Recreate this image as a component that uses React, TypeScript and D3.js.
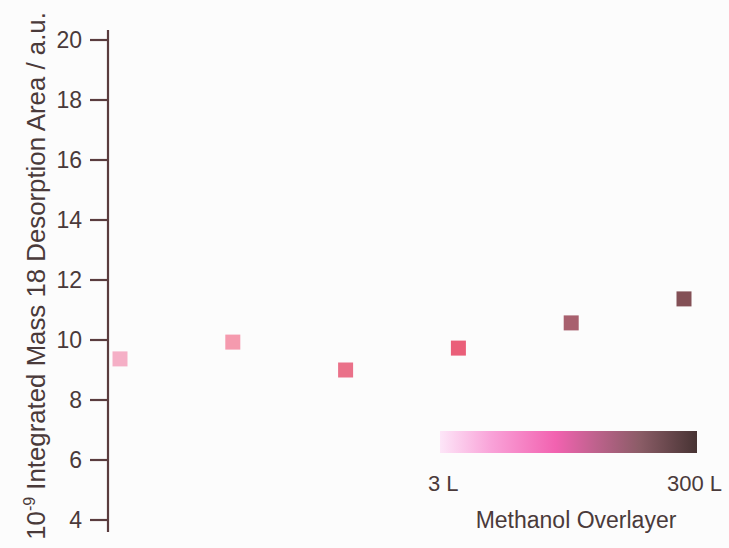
import React from "react";
import * as d3 from "d3";

const exposures = ["e1", "e2", "e3", "e4", "e5", "e6"];
const areas = [9.37, 9.93, 9.0, 9.73, 10.57, 11.37];
const pointColors = ["#f5afc6", "#f59aae", "#ea7189", "#ea5f79", "#a8606e", "#835056"];
const yTicks = [4, 6, 8, 10, 12, 14, 16, 18, 20];
const gradientStops = [
  { offset: 0, color: "#fde6f8" },
  { offset: 0.2, color: "#f9a2d8" },
  { offset: 0.45, color: "#f262b0" },
  { offset: 0.6, color: "#c0628e" },
  { offset: 0.78, color: "#8a5c66" },
  { offset: 1, color: "#473333" },
];
const legendLabels = ["3 L", "300 L"];
const legendTitle = "Methanol Overlayer";
const yLabelMain = " Integrated Mass 18 Desorption Area / a.u.";

const W = 729;
const H = 548;
const FONT = "'Liberation Sans', Arial, Helvetica, sans-serif";
const TEXT = "#4a3a3a";
const AXIS = "#5a3c3e";

export default function App() {
  const y = d3.scaleLinear().domain([4, 20]).range([520, 40]);
  const x = d3.scalePoint<string>().domain(exposures).range([120, 684]);
  const legendX = d3.scaleLinear().domain([0, 1]).range([440, 697]);
  const sq = 15;

  return (
    <svg
      width={W}
      height={H}
      style={{ position: "absolute", left: 0, top: 0, background: "#fcfcfc" }}
      fontFamily={FONT}
    >
      <defs>
        <linearGradient id="overlayer" x1="0" x2="1" y1="0" y2="0">
          {gradientStops.map((s, i) => (
            <stop key={i} offset={s.offset} stopColor={s.color} />
          ))}
        </linearGradient>
      </defs>
      <rect width={W} height={H} fill="#fcfcfc" />

      {/* y axis */}
      <line x1={108} x2={108} y1={30} y2={532} stroke={AXIS} strokeWidth={2.2} />
      {yTicks.map((t) => (
        <g key={t}>
          <line x1={90} x2={108} y1={y(t)} y2={y(t)} stroke={AXIS} strokeWidth={2.2} />
          <text
            x={82}
            y={y(t)}
            dy="0.36em"
            textAnchor="end"
            fontSize={23}
            fill={TEXT}
          >
            {t}
          </text>
        </g>
      ))}

      {/* y label */}
      <text
        transform={`translate(45, 276) rotate(-90)`}
        textAnchor="middle"
        fontSize={25.8}
        fill={TEXT}
      >
        <tspan>10</tspan>
        <tspan dy={-10} fontSize={16}>-9</tspan>
        <tspan dy={10}>{yLabelMain}</tspan>
      </text>

      {/* points */}
      {exposures.map((e, i) => (
        <rect
          key={e}
          x={(x(e) as number) - sq / 2}
          y={y(areas[i]) - sq / 2}
          width={sq}
          height={sq}
          fill={pointColors[i]}
        />
      ))}

      {/* legend */}
      <rect
        x={legendX(0)}
        y={431}
        width={legendX(1) - legendX(0)}
        height={22}
        fill="url(#overlayer)"
      />
      <text x={428} y={491} fontSize={22} fill={TEXT}>
        {legendLabels[0]}
      </text>
      <text x={722} y={491} fontSize={22} fill={TEXT} textAnchor="end">
        {legendLabels[1]}
      </text>
      <text x={576} y={528} fontSize={23} fill={TEXT} textAnchor="middle">
        {legendTitle}
      </text>
    </svg>
  );
}
